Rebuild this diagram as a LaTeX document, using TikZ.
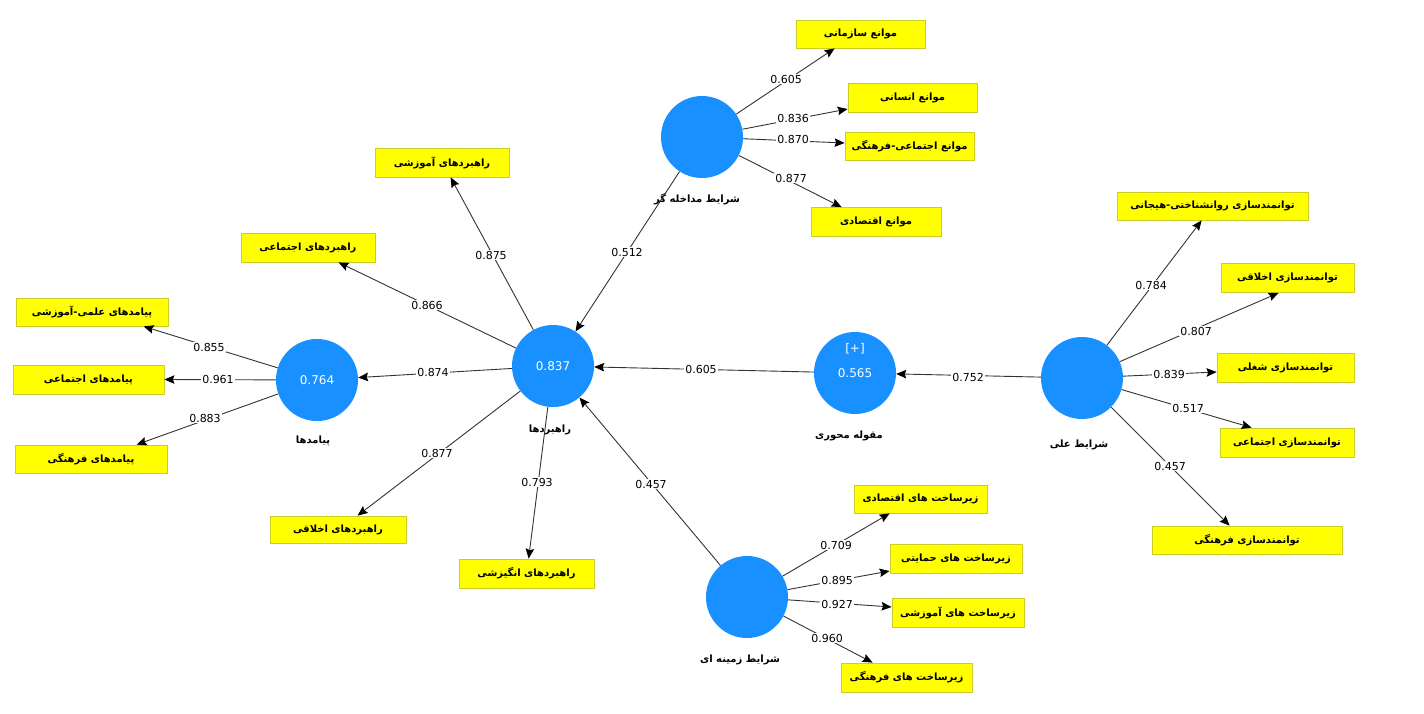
\documentclass[tikz,border=0pt]{standalone}
\usepackage{fontspec}
\setmainfont{DejaVu Sans}
\newfontfamily\arabicfont[Script=Arabic]{DejaVu Sans}
\TeXXeTstate=1
\usetikzlibrary{arrows.meta}
\definecolor{lvblue}{RGB}{25,144,255}
\definecolor{boxyel}{RGB}{255,255,0}
\definecolor{boxedge}{RGB}{205,205,40}
\newcommand{\fatxt}[1]{\beginR #1\endR}
\tikzset{
  lv/.style={circle, fill=lvblue, minimum size=82pt, inner sep=0pt, text=white, font=\fontsize{12}{14}\selectfont},
  ind/.style={draw=boxedge, line width=0.8pt, fill=boxyel, inner sep=0pt, font=\arabicfont\bfseries\fontsize{10}{12}\selectfont},
  lvname/.style={inner sep=1pt, font=\arabicfont\bfseries\fontsize{10}{12}\selectfont},
  wt/.style={fill=white, inner sep=1.2pt, font=\fontsize{11}{13}\selectfont},
  arr/.style={draw=black!80, line width=0.9pt, -{Stealth[length=10pt,width=8.5pt,inset=1.5pt,color=black]}}
}
\begin{document}
\begin{tikzpicture}[x=1pt,y=-1pt]
\useasboundingbox (0,0) rectangle (1424,713);
% latent variables
\node[lv] (R) at (553,366) {0.837};
\node[lv] (P) at (317,380) {0.764};
\node[lv] (M) at (702,137) {};
\node[lv] (Mh) at (855,373) {0.565};
\node[text=white, inner sep=0pt, font=\fontsize{12}{14}\selectfont] (Mhp) at (855,349) {[+]};
\node[lv] (A) at (1082,378) {};
\node[lv] (Z) at (747,597) {};
% names
\node[lvname] (Rn) at (550,430) {\fatxt{راهبردها}};
\node[lvname] (Pn) at (313,441) {\fatxt{پیامدها}};
\node[lvname] (Mn) at (697,199) {\fatxt{شرایط مداخله گر}};
\node[lvname] (Mhn) at (849,436) {\fatxt{مقوله محوری}};
\node[lvname] (An) at (1079,445) {\fatxt{شرایط علی}};
\node[lvname] (Zn) at (740,660) {\fatxt{شرایط زمینه ای}};
% indicators
\node[ind, minimum width=129pt, minimum height=28pt] (m1) at (860.5,34) {\fatxt{موانع سازمانی}};
\node[ind, minimum width=129pt, minimum height=29pt] (m2) at (912.5,97.5) {\fatxt{موانع انسانی}};
\node[ind, minimum width=129pt, minimum height=28pt] (m3) at (909.5,146) {\fatxt{موانع اجتماعی-فرهنگی}};
\node[ind, minimum width=130pt, minimum height=29pt] (m4) at (876,222) {\fatxt{موانع اقتصادی}};
\node[ind, minimum width=134pt, minimum height=29pt] (r1) at (442,162.5) {\fatxt{راهبردهای آموزشی}};
\node[ind, minimum width=134pt, minimum height=29pt] (r2) at (308,247.5) {\fatxt{راهبردهای اجتماعی}};
\node[ind, minimum width=136pt, minimum height=27pt] (r3) at (338,529.5) {\fatxt{راهبردهای اخلاقی}};
\node[ind, minimum width=135pt, minimum height=29pt] (r4) at (526.5,573.5) {\fatxt{راهبردهای انگیزشی}};
\node[ind, minimum width=152pt, minimum height=28pt] (p1) at (92,312) {\fatxt{پیامدهای علمی-آموزشی}};
\node[ind, minimum width=151pt, minimum height=29pt] (p2) at (88.5,379.5) {\fatxt{پیامدهای اجتماعی}};
\node[ind, minimum width=152pt, minimum height=28pt] (p3) at (91,459) {\fatxt{پیامدهای فرهنگی}};
\node[ind, minimum width=191pt, minimum height=28pt] (a1) at (1212.5,206) {\fatxt{توانمندسازی روانشناختی-هیجانی}};
\node[ind, minimum width=133pt, minimum height=29pt] (a2) at (1287.5,278) {\fatxt{توانمندسازی اخلاقی}};
\node[ind, minimum width=137pt, minimum height=29pt] (a3) at (1285.5,367.5) {\fatxt{توانمندسازی شغلی}};
\node[ind, minimum width=134pt, minimum height=29pt] (a4) at (1287,442.5) {\fatxt{توانمندسازی اجتماعی}};
\node[ind, minimum width=190pt, minimum height=28pt] (a5) at (1247,540) {\fatxt{توانمندسازی فرهنگی}};
\node[ind, minimum width=133pt, minimum height=28pt] (z1) at (920.5,499) {\fatxt{زیرساخت های اقتصادی}};
\node[ind, minimum width=132pt, minimum height=29pt] (z2) at (956,558.5) {\fatxt{زیرساخت های حمایتی}};
\node[ind, minimum width=132pt, minimum height=29pt] (z3) at (958,612.5) {\fatxt{زیرساخت های آموزشی}};
\node[ind, minimum width=131pt, minimum height=29pt] (z4) at (906.5,677.5) {\fatxt{زیرساخت های فرهنگی}};
% connectors
\draw[arr] (M) -- ([xshift=39pt]m1.south west);
\draw[arr] (M) -- ([yshift=-11.5pt]m2.west);
\draw[arr] (M) -- ([yshift=3pt]m3.west);
\draw[arr] (M) -- ([xshift=31pt]m4.north west);
\draw[arr] (M) -- (R);
\draw[arr] (R) -- ([xshift=76pt]r1.south west);
\draw[arr] (R) -- ([xshift=98pt]r2.south west);
\draw[arr] (R) -- (P);
\draw[arr] (R) -- ([xshift=88pt]r3.north west);
\draw[arr] (R) -- ([xshift=70pt]r4.north west);
\draw[arr] (Mh) -- (R);
\draw[arr] (Z) -- (R);
\draw[arr] (P) -- ([xshift=128pt]p1.south west);
\draw[arr] (P) -- (p2.east);
\draw[arr] (P) -- ([xshift=122pt]p3.north west);
\draw[arr] (A) -- (Mh);
\draw[arr] (A) -- ([xshift=85pt]a1.south west);
\draw[arr] (A) -- ([xshift=58pt]a2.south west);
\draw[arr] (A) -- ([yshift=-4.5pt]a3.west);
\draw[arr] (A) -- ([xshift=32pt]a4.north west);
\draw[arr] (A) -- ([xshift=78pt]a5.north west);
\draw[arr] (Z) -- ([xshift=36pt]z1.south west);
\draw[arr] (Z) -- ([yshift=-12.5pt]z2.west);
\draw[arr] (Z) -- ([yshift=5.5pt]z3.west);
\draw[arr] (Z) -- ([xshift=32pt]z4.north west);
% path coefficients / loadings
\node[wt] (l1) at (786,79) {0.605};
\node[wt] (l2) at (793,118) {0.836};
\node[wt] (l3) at (793,139) {0.870};
\node[wt] (l4) at (791,178) {0.877};
\node[wt] (l5) at (627,252) {0.512};
\node[wt] (l6) at (491,255) {0.875};
\node[wt] (l7) at (427,305) {0.866};
\node[wt] (l8) at (433,372) {0.874};
\node[wt] (l9) at (437,453) {0.877};
\node[wt] (l10) at (537,482) {0.793};
\node[wt] (l11) at (701,369) {0.605};
\node[wt] (l12) at (651,484) {0.457};
\node[wt] (l13) at (209,347) {0.855};
\node[wt] (l14) at (218,379) {0.961};
\node[wt] (l15) at (205,418) {0.883};
\node[wt] (l16) at (968,377) {0.752};
\node[wt] (l17) at (1151,285) {0.784};
\node[wt] (l18) at (1196,331) {0.807};
\node[wt] (l19) at (1169,374) {0.839};
\node[wt] (l20) at (1188,408) {0.517};
\node[wt] (l21) at (1170,466) {0.457};
\node[wt] (l22) at (836,545) {0.709};
\node[wt] (l23) at (837,580) {0.895};
\node[wt] (l24) at (837,604) {0.927};
\node[wt] (l25) at (827,638) {0.960};
\end{tikzpicture}
\end{document}
